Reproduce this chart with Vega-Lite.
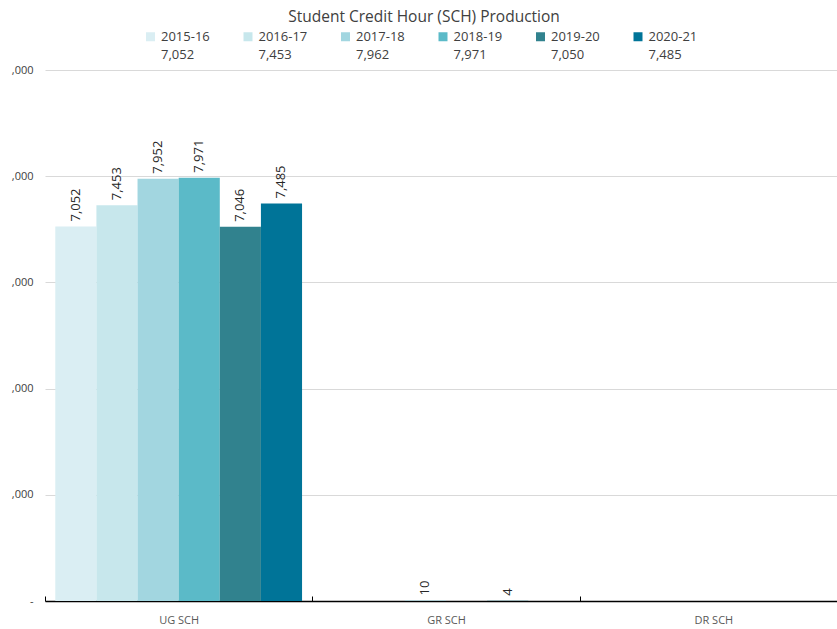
{
  "$schema": "https://vega.github.io/schema/vega-lite/v6.json",
  "width": 792,
  "height": 531,
  "autosize": "none",
  "padding": {"left": 45, "top": 70, "right": 0, "bottom": 28},
  "background": "#ffffff",
  "title": {
    "text": "Student Credit Hour (SCH) Production",
    "font": "Open Sans",
    "fontSize": 15.5,
    "fontWeight": "normal",
    "color": "#404040",
    "anchor": "middle",
    "dx": -17,
    "offset": 5
  },
  "config": {
    "view": {"stroke": null},
    "font": "Open Sans"
  },
  "data": {
    "values": [
      {"cat": "UG SCH", "year": "2015-16", "value": 7052},
      {"cat": "UG SCH", "year": "2016-17", "value": 7453},
      {"cat": "UG SCH", "year": "2017-18", "value": 7952},
      {"cat": "UG SCH", "year": "2018-19", "value": 7971},
      {"cat": "UG SCH", "year": "2019-20", "value": 7046},
      {"cat": "UG SCH", "year": "2020-21", "value": 7485},
      {"cat": "GR SCH", "year": "2015-16", "value": 0},
      {"cat": "GR SCH", "year": "2016-17", "value": 0},
      {"cat": "GR SCH", "year": "2017-18", "value": 10},
      {"cat": "GR SCH", "year": "2018-19", "value": 0},
      {"cat": "GR SCH", "year": "2019-20", "value": 4},
      {"cat": "GR SCH", "year": "2020-21", "value": 0},
      {"cat": "DR SCH", "year": "2015-16", "value": 0},
      {"cat": "DR SCH", "year": "2016-17", "value": 0},
      {"cat": "DR SCH", "year": "2017-18", "value": 0},
      {"cat": "DR SCH", "year": "2018-19", "value": 0},
      {"cat": "DR SCH", "year": "2019-20", "value": 0},
      {"cat": "DR SCH", "year": "2020-21", "value": 0}
    ]
  },
  "encoding": {
    "x": {
      "field": "cat",
      "type": "nominal",
      "sort": ["UG SCH", "GR SCH", "DR SCH"],
      "scale": {"paddingInner": 0, "paddingOuter": 0, "range": [0, 802]},
      "axis": {
        "title": null,
        "labelAngle": 0,
        "labelFont": "Open Sans",
        "labelFontSize": 11,
        "labelColor": "#595959",
        "domainColor": "#000000",
        "domainWidth": 1.5,
        "tickColor": "#000000",
        "tickBand": "extent",
        "tickSize": -5,
        "labelPadding": 18
      }
    },
    "xOffset": {
      "field": "year",
      "type": "nominal",
      "scale": {"paddingInner": 0, "paddingOuter": 0.25}
    },
    "y": {
      "field": "value",
      "type": "quantitative",
      "scale": {"domain": [0, 10000], "nice": false},
      "axis": {
        "title": null,
        "values": [0, 2000, 4000, 6000, 8000, 10000],
        "labelExpr": "datum.value == 0 ? '-' : ',000'",
        "domain": false,
        "ticks": false,
        "grid": true,
        "gridColor": "#d9d9d9",
        "gridWidth": 1,
        "labelFont": "Open Sans",
        "labelFontSize": 11,
        "labelColor": "#404040",
        "labelPadding": 12
      }
    }
  },
  "layer": [
    {
      "mark": {"type": "bar"},
      "encoding": {
        "color": {
          "field": "year",
          "type": "nominal",
          "scale": {"range": ["#daeef3", "#c7e7ec", "#a2d6e0", "#5bbac8", "#31828e", "#007498"]},
          "legend": {
            "orient": "none",
            "legendX": 99,
            "legendY": -40,
            "direction": "horizontal",
            "columns": 6,
            "columnPadding": 31.5,
            "title": null,
            "symbolType": "square",
            "symbolSize": 81,
            "symbolStrokeWidth": 0,
            "labelFont": "Open Sans",
            "labelFontSize": 13,
            "labelColor": "#404040",
            "labelOffset": 4,
            "labelExpr": "[datum.label, datum.label == '2015-16' ? '7,052' : datum.label == '2016-17' ? '7,453' : datum.label == '2017-18' ? '7,962' : datum.label == '2018-19' ? '7,971' : datum.label == '2019-20' ? '7,050' : '7,485']",
            "encode": {
              "labels": {
                "update": {
                  "lineHeight": {"value": 18}
                }
              }
            }
          }
        }
      }
    },
    {
      "transform": [{"filter": "datum.value > 0"}],
      "mark": {
        "type": "text",
        "angle": 270,
        "align": "left",
        "baseline": "middle",
        "dx": 5,
        "font": "Open Sans",
        "fontSize": 13,
        "color": "#262626"
      },
      "encoding": {
        "text": {"field": "value", "type": "quantitative", "format": ","}
      }
    }
  ]
}
